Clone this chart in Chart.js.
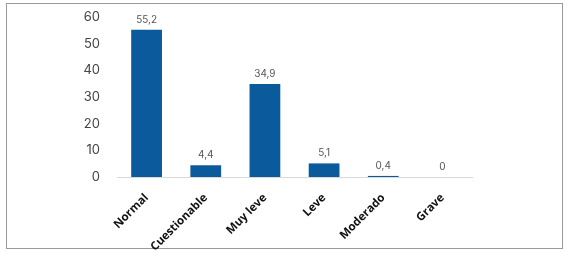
<!DOCTYPE html>
<html>
<head>
<meta charset="utf-8">
<script src="https://cdn.jsdelivr.net/npm/chart.js@4"></script>
<style>
    body { margin: 0; background: #fff; }
    #frame { position: absolute; left: 6px; top: 3px; width: 555px; height: 244px; border: 1px solid #9a9a9a; }
    #wrap { position: absolute; left: 0; top: 0; width: 567px; height: 253px; }
</style>
</head>
<body>
<div id="frame"></div>
<div id="wrap"><canvas id="chart"></canvas></div>
<script>
// categorias y valores (%)
const categories = ["Normal", "Cuestionable", "Muy leve", "Leve", "Moderado", "Grave"];
const values = [55.2, 4.4, 34.9, 5.1, 0.4, 0];
const yTicks = [0, 10, 20, 30, 40, 50, 60];

const barColor = "#0b5a9c";

// etiquetas encima de cada barra
const valueLabels = {
    id: "valueLabels",
    afterDatasetsDraw(chart) {
        const { ctx } = chart;
        const meta = chart.getDatasetMeta(0);
        ctx.save();
        ctx.font = "10px Inter";
        ctx.fillStyle = "#555";
        ctx.textAlign = "center";
        ctx.textBaseline = "bottom";
        meta.data.forEach((bar, i) => {
            const txt = String(values[i]).replace(".", ",");
            ctx.fillText(txt, bar.x, bar.y - 5);
        });
        ctx.restore();
    },
};

new Chart(document.getElementById("chart"), {
    type: "bar",
    data: {
        labels: categories,
        datasets: [
            {
                data: values,
                backgroundColor: barColor,
                barPercentage: 0.65,
                categoryPercentage: 0.8,
            },
        ],
    },
    options: {
        responsive: true,
        maintainAspectRatio: false,
        animation: false,
        layout: {
            padding: { top: 17, right: 95, bottom: 0, left: 0 },
        },
        scales: {
            x: {
                grid: { display: false },
                border: { display: true, color: "#d9d9d9", width: 1 },
                ticks: {
                    minRotation: 45,
                    maxRotation: 45,
                    padding: 6,
                    color: "#111",
                    font: { family: "Open Sans", size: 11.5, weight: "bold" },
                },
                afterFit: (scale) => { scale.height = 76; },
            },
            y: {
                min: 0,
                max: 60,
                afterBuildTicks: (scale) => { scale.ticks = yTicks.map((v) => ({ value: v })); },
                grid: { display: false },
                border: { display: false },
                ticks: {
                    padding: 9,
                    color: "#444",
                    font: { family: "Inter", size: 13 },
                },
                afterFit: (scale) => { scale.width = 117; },
            },
        },
        plugins: {
            legend: { display: false },
            tooltip: { enabled: false },
        },
    },
    plugins: [valueLabels],
});
</script>
</body>
</html>
